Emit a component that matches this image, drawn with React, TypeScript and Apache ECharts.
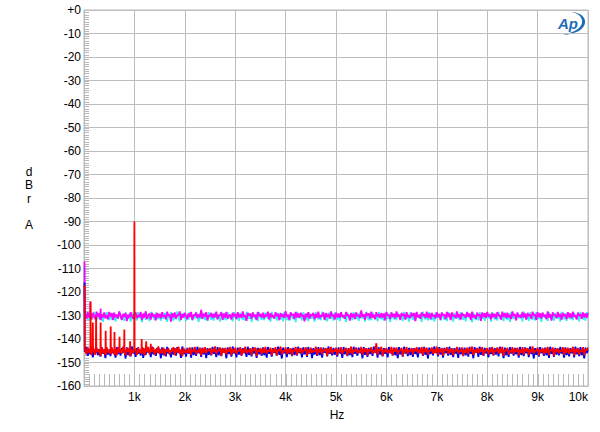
import React, { useEffect, useRef } from "react";
import * as echarts from "echarts";

// frequency grid of the noise-floor traces (Hz)
const floorStart = 25;
const floorStep = 25;

const magentaFloor = [
  -129.2,-131.4,-128.6,-130.9,-129.8,-131.7,-128.9,-130.3,-131.5,-128.4,-130.6,-129.1,-132.0,-129.5,-130.8,-128.7,-131.2,-129.9,-131.6,-128.5,
  -130.4,-129.0,-131.9,-128.8,-130.7,-129.6,-131.3,-128.3,-130.1,-131.8,-129.3,-130.5,-128.9,-132.4,-129.7,-131.0,-128.6,-130.2,-131.4,-129.4,
  -128.7,-131.1,-129.8,-130.6,-128.5,-131.9,-129.2,-130.9,-128.2,-131.5,-130.0,-129.1,-131.7,-128.8,-130.4,-129.6,-132.1,-128.9,-130.8,-129.3,
  -131.2,-128.6,-130.5,-129.9,-131.6,-128.4,-130.2,-129.5,-132.6,-129.0,-130.7,-128.7,-131.3,-129.8,-130.0,-128.3,-131.8,-129.4,-130.9,-128.9,
  -130.3,-131.5,-129.1,-130.6,-128.5,-131.9,-129.7,-130.1,-128.8,-131.2,-129.5,-130.8,-127.6,-131.4,-129.2,-130.5,-128.6,-132.0,-129.9,-130.3,
  -128.9,-131.1,-129.4,-130.7,-128.4,-131.6,-129.8,-130.0,-128.7,-131.8,-129.1,-130.9,-128.5,-131.3,-130.2,-129.6,-131.7,-128.8,-130.4,-129.3,
  -131.5,-128.6,-130.8,-129.5,-131.0,-128.3,-130.6,-129.9,-132.3,-128.9,-130.1,-129.2,-131.4,-128.7,-130.5,-129.7,-131.9,-128.5,-130.3,-129.4,
  -130.9,-128.8,-131.2,-129.6,-130.4,-128.4,-131.7,-129.0,-130.7,-129.8,-131.3,-128.6,-130.2,-129.3,-132.0,-128.9,-130.6,-129.5,-131.1,-128.2,
  -130.5,-129.7,-131.8,-128.7,-130.0,-129.4,-131.5,-128.5,-130.8,-129.1,-131.0,-128.8,-130.3,-129.9,-132.5,-129.2,-130.7,-128.6,-131.4,-129.6,
  -130.1,-128.9,-131.6,-129.3,-130.9,-128.4,-131.2,-129.8,-130.4,-128.7,-131.9,-129.0,-130.6,-129.5,-131.3,-128.3,-130.2,-129.7,-131.7,-128.8,
  -130.8,-129.2,-131.0,-128.6,-130.5,-129.9,-131.4,-128.5,-130.1,-129.6,-132.2,-128.9,-130.7,-129.3,-131.5,-128.7,-130.3,-129.8,-131.1,-127.8,
  -130.6,-129.4,-131.8,-128.8,-130.2,-129.1,-131.3,-128.4,-130.9,-129.7,-131.6,-128.6,-130.4,-129.5,-131.0,-128.9,-130.8,-129.2,-132.1,-128.5,
  -130.0,-129.8,-131.5,-128.7,-130.6,-129.3,-131.2,-128.3,-130.5,-129.6,-131.9,-128.9,-130.1,-129.4,-131.7,-128.6,-130.7,-129.9,-131.1,-128.8,
  -130.3,-129.0,-132.4,-128.5,-130.8,-129.7,-131.4,-128.7,-130.2,-129.5,-131.0,-128.4,-130.9,-129.2,-131.6,-128.9,-130.4,-129.8,-131.3,-128.6,
  -130.7,-129.3,-131.8,-128.8,-130.0,-129.6,-131.5,-128.5,-130.6,-129.1,-132.0,-128.7,-130.3,-129.9,-131.2,-128.3,-130.8,-129.4,-131.7,-128.9,
  -130.1,-129.7,-131.0,-128.6,-130.5,-129.2,-131.9,-128.4,-130.9,-129.8,-131.4,-128.8,-130.2,-129.5,-132.3,-128.7,-130.6,-129.0,-131.1,-128.5,
  -130.4,-129.6,-131.6,-128.9,-130.7,-129.3,-131.3,-128.6,-130.0,-129.9,-131.8,-128.4,-130.5,-129.1,-131.2,-128.8,-130.9,-129.7,-131.5,-128.3,
  -130.2,-129.4,-132.1,-128.7,-130.6,-129.8,-131.0,-128.5,-130.8,-129.2,-131.7,-128.9,-130.3,-129.6,-131.4,-128.4,-130.1,-129.5,-131.9,-128.6,
  -130.7,-129.0,-131.3,-128.8,-130.4,-129.7,-131.6,-128.3,-130.9,-129.4,-132.2,-128.7,-130.0,-129.8,-131.1,-128.5,-130.6,-129.3,-131.8,-128.9,
  -130.3,-129.6,-131.5,-128.6,-130.8,-129.1,-131.2,-128.4,-130.5,-129.9,-131.7,-128.8,-130.2,-129.5,-131.4,-128.7,-130.7,-129.2,-131.0,-128.9,
];

const cyanFloor = [
  -130.8,-128.7,-131.9,-129.6,-132.4,-129.0,-131.1,-128.5,-130.6,-132.2,-129.3,-131.5,-128.8,-130.9,-132.7,-129.4,-131.0,-128.6,-130.4,-132.0,
  -129.1,-131.7,-128.9,-130.5,-132.5,-129.7,-131.3,-128.4,-130.2,-131.9,-129.5,-132.3,-128.7,-130.8,-131.4,-129.2,-132.6,-128.8,-130.7,-131.6,
  -129.8,-132.1,-128.6,-131.2,-129.4,-132.8,-130.0,-128.9,-131.8,-129.6,-130.3,-132.4,-128.5,-131.0,-129.9,-132.0,-128.7,-130.6,-131.5,-129.3,
  -132.2,-129.0,-131.4,-128.8,-130.9,-132.6,-129.5,-131.2,-128.6,-130.4,-132.1,-129.7,-131.6,-128.3,-130.7,-132.5,-129.1,-131.0,-128.9,-130.5,
  -132.3,-129.4,-131.7,-128.7,-130.1,-132.0,-129.8,-131.3,-128.5,-130.8,-132.7,-129.2,-131.5,-128.9,-130.3,-131.9,-129.6,-132.4,-128.6,-130.6,
  -131.8,-129.1,-132.2,-128.8,-130.9,-131.4,-129.5,-132.6,-128.4,-130.2,-131.7,-129.3,-132.0,-128.7,-130.5,-131.2,-129.9,-132.5,-128.6,-130.7,
  -131.5,-129.0,-132.3,-128.9,-130.4,-131.9,-129.7,-132.1,-128.5,-130.8,-131.3,-129.4,-132.7,-128.8,-130.1,-131.6,-129.2,-132.4,-128.6,-130.6,
  -131.8,-129.5,-132.0,-128.7,-130.3,-131.4,-129.8,-132.6,-128.4,-130.9,-131.1,-129.3,-132.2,-128.9,-130.5,-131.7,-129.0,-132.5,-128.6,-130.2,
  -131.9,-129.6,-132.3,-128.8,-130.7,-131.5,-129.1,-132.8,-128.5,-130.4,-131.2,-129.7,-132.1,-128.7,-130.0,-131.8,-129.4,-132.4,-128.9,-130.6,
  -131.3,-129.2,-132.6,-128.6,-130.8,-131.6,-129.9,-132.0,-128.4,-130.3,-131.9,-129.5,-132.5,-128.8,-130.1,-131.4,-129.0,-132.2,-128.7,-130.9,
  -131.7,-129.3,-132.4,-128.5,-130.6,-131.1,-129.8,-132.7,-128.9,-130.2,-131.8,-129.4,-132.0,-128.6,-130.5,-131.5,-129.1,-132.3,-128.8,-130.7,
  -131.2,-129.6,-132.6,-128.4,-130.9,-131.9,-129.0,-132.1,-128.7,-130.4,-131.3,-129.7,-132.5,-128.5,-130.0,-131.6,-129.5,-132.2,-128.9,-130.8,
  -131.4,-129.2,-132.8,-128.6,-130.3,-131.7,-129.9,-132.0,-128.8,-130.6,-131.1,-129.4,-132.4,-128.5,-130.9,-131.5,-129.3,-132.6,-128.7,-130.1,
  -131.8,-129.6,-132.3,-128.9,-130.5,-131.2,-129.1,-132.7,-128.4,-130.8,-131.6,-129.8,-132.1,-128.6,-130.2,-131.9,-129.5,-132.5,-128.8,-130.4,
  -131.0,-129.3,-132.2,-128.7,-130.7,-131.8,-129.7,-132.4,-128.5,-130.1,-131.5,-129.0,-132.6,-128.9,-130.6,-131.3,-129.4,-132.0,-128.6,-130.9,
  -131.7,-129.8,-132.5,-128.4,-130.3,-131.1,-129.2,-132.8,-128.8,-130.5,-131.9,-129.6,-132.1,-128.7,-130.0,-131.4,-129.5,-132.3,-128.9,-130.8,
  -131.2,-129.1,-132.6,-128.6,-130.4,-131.7,-129.9,-132.2,-128.5,-130.7,-131.3,-129.4,-132.4,-128.8,-130.2,-131.8,-129.0,-132.7,-128.6,-130.5,
  -131.5,-129.7,-132.0,-128.9,-130.8,-131.2,-129.3,-132.5,-128.4,-130.1,-131.6,-129.8,-132.3,-128.7,-130.6,-131.9,-129.2,-132.1,-128.5,-130.9,
  -131.4,-129.5,-132.7,-128.8,-130.3,-131.0,-129.6,-132.4,-128.6,-130.5,-131.8,-129.1,-132.2,-128.9,-130.7,-131.3,-129.7,-132.6,-128.4,-130.2,
  -131.6,-129.0,-132.3,-128.7,-130.9,-131.5,-129.4,-132.0,-128.8,-130.4,-131.2,-129.9,-132.5,-128.5,-130.1,-131.7,-129.3,-132.2,-128.6,-130.6,
];

const blueFloor = [
  -145.4,-143.6,-147.2,-144.1,-146.5,-143.3,-147.8,-144.6,-145.9,-143.8,-146.9,-144.3,-147.5,-143.5,-146.2,-144.8,-148.1,-143.9,-146.6,-144.4,
  -147.3,-143.7,-146.0,-144.9,-147.9,-143.4,-146.4,-144.2,-147.1,-143.8,-145.7,-144.5,-148.3,-143.6,-146.8,-144.0,-147.4,-143.2,-146.1,-144.7,
  -147.6,-143.9,-146.3,-144.4,-147.0,-143.5,-148.0,-144.1,-146.7,-143.7,-145.8,-144.6,-147.7,-143.3,-146.5,-144.9,-147.2,-143.8,-146.0,-144.2,
  -148.2,-143.6,-146.9,-144.3,-147.4,-143.4,-146.1,-144.8,-147.8,-143.9,-146.6,-144.0,-147.1,-143.5,-145.9,-144.7,-148.0,-143.2,-146.4,-144.5,
  -147.5,-143.8,-146.2,-144.1,-147.9,-143.6,-146.8,-144.4,-147.2,-143.3,-146.0,-144.9,-147.6,-143.7,-146.5,-144.2,-148.1,-143.9,-146.7,-144.6,
  -147.0,-143.4,-146.3,-144.8,-147.7,-143.5,-146.9,-144.0,-147.3,-143.8,-145.8,-144.5,-148.2,-143.6,-146.4,-144.3,-147.5,-143.2,-146.1,-144.7,
  -147.8,-143.7,-146.6,-144.2,-147.1,-143.9,-146.0,-144.9,-147.6,-143.3,-146.8,-144.4,-147.4,-143.5,-146.2,-144.1,-148.0,-143.8,-146.5,-144.6,
  -147.2,-143.6,-146.9,-144.0,-147.9,-143.4,-146.3,-144.7,-147.5,-143.9,-145.9,-144.3,-147.0,-143.2,-146.7,-144.8,-148.3,-143.7,-146.1,-144.5,
  -147.7,-143.5,-146.4,-144.2,-147.3,-143.8,-146.8,-144.6,-147.1,-143.3,-146.0,-144.9,-147.8,-143.6,-146.5,-144.1,-147.6,-143.4,-146.2,-144.4,
  -148.1,-143.9,-146.6,-144.3,-147.2,-143.5,-146.9,-144.0,-147.9,-143.7,-145.8,-144.8,-147.4,-143.2,-146.3,-144.5,-147.0,-143.8,-146.7,-144.2,
  -147.5,-143.6,-146.1,-144.7,-148.0,-143.4,-146.5,-144.1,-147.3,-143.9,-146.8,-144.4,-147.7,-143.3,-146.2,-144.9,-147.1,-143.7,-146.0,-144.6,
  -148.2,-143.5,-146.7,-144.0,-147.6,-143.8,-146.4,-144.5,-147.2,-143.2,-145.9,-144.3,-147.9,-143.6,-146.6,-144.8,-147.4,-143.9,-146.3,-144.2,
  -147.8,-143.4,-146.0,-144.6,-147.0,-143.7,-146.9,-144.1,-148.1,-143.5,-146.5,-144.7,-147.5,-143.3,-146.2,-144.4,-147.3,-143.8,-146.8,-144.0,
  -147.6,-143.9,-146.3,-144.9,-147.8,-143.6,-146.1,-144.2,-147.2,-143.4,-146.7,-144.5,-148.3,-143.7,-146.4,-144.0,-147.0,-143.2,-145.9,-144.8,
  -147.4,-143.5,-146.6,-144.3,-147.9,-143.8,-146.0,-144.6,-147.1,-143.3,-146.8,-144.1,-147.7,-143.9,-146.2,-144.7,-148.0,-143.6,-146.5,-144.4,
  -147.3,-143.7,-146.9,-144.0,-147.5,-143.4,-146.3,-144.8,-148.2,-143.5,-145.8,-144.2,-147.6,-143.2,-146.7,-144.5,-147.2,-143.8,-146.1,-144.9,
  -147.8,-143.6,-146.4,-144.3,-147.0,-143.9,-146.6,-144.1,-147.4,-143.3,-146.0,-144.7,-148.1,-143.7,-146.9,-144.4,-147.6,-143.5,-146.2,-144.6,
  -147.1,-143.8,-146.5,-144.2,-147.9,-143.4,-146.8,-144.9,-147.3,-143.6,-146.1,-144.0,-147.7,-143.2,-146.4,-144.5,-148.3,-143.9,-146.7,-144.3,
  -147.5,-143.5,-146.0,-144.8,-147.2,-143.7,-146.9,-144.1,-148.0,-143.3,-146.3,-144.6,-147.6,-143.8,-146.6,-144.2,-147.0,-143.4,-146.2,-144.7,
  -147.9,-143.6,-146.8,-144.4,-147.4,-143.9,-146.1,-144.0,-147.8,-143.2,-146.5,-144.8,-147.3,-143.5,-146.9,-144.3,-148.2,-143.7,-146.0,-144.5,
];

const redFloor = [
  -144.2,-146.5,-143.6,-145.9,-144.8,-146.9,-143.4,-145.3,-146.7,-143.9,-145.6,-144.5,-147.2,-143.7,-146.1,-144.3,-146.8,-143.5,-145.7,-144.9,
  -146.4,-143.8,-145.2,-146.6,-144.1,-147.0,-143.6,-145.8,-144.4,-146.3,-143.3,-145.5,-146.9,-144.0,-145.4,-143.7,-147.3,-144.6,-146.0,-143.9,
  -145.1,-146.8,-143.5,-145.9,-144.7,-146.2,-143.8,-147.1,-144.2,-145.6,-143.4,-146.5,-144.9,-145.3,-143.6,-146.7,-144.3,-145.8,-143.2,-146.4,
  -144.6,-146.0,-143.7,-147.0,-144.4,-145.5,-143.9,-146.6,-144.8,-145.2,-143.5,-146.9,-144.0,-145.7,-143.3,-146.3,-144.5,-147.4,-143.8,-145.4,
  -146.1,-144.2,-145.9,-143.6,-146.8,-144.7,-145.3,-143.4,-146.5,-144.9,-145.6,-143.7,-147.1,-144.1,-145.8,-143.5,-146.2,-144.6,-145.0,-143.9,
  -146.7,-144.3,-145.5,-143.2,-146.4,-144.8,-145.1,-143.6,-147.2,-144.0,-145.9,-143.8,-146.6,-144.5,-145.4,-143.4,-146.9,-144.2,-145.7,-143.7,
  -146.3,-144.9,-145.2,-143.5,-147.0,-144.4,-145.8,-143.3,-146.1,-144.7,-145.6,-143.9,-146.8,-144.1,-145.0,-143.6,-147.3,-144.6,-145.4,-143.8,
  -146.5,-144.0,-145.9,-143.4,-146.2,-144.8,-145.3,-143.7,-146.9,-144.3,-145.7,-143.5,-147.1,-144.5,-145.1,-143.2,-146.6,-144.9,-145.5,-143.6,
  -146.4,-144.2,-145.8,-143.9,-147.0,-144.6,-145.2,-143.4,-146.7,-144.1,-145.6,-143.8,-146.3,-144.7,-145.0,-143.5,-147.2,-144.4,-145.9,-143.7,
  -146.0,-144.9,-145.4,-143.3,-146.8,-144.2,-145.7,-143.6,-146.5,-144.5,-145.1,-143.9,-147.3,-144.0,-145.8,-143.4,-146.2,-144.8,-145.3,-143.7,
  -146.9,-144.3,-145.6,-143.5,-146.4,-144.7,-145.0,-143.8,-147.1,-144.1,-145.9,-143.2,-146.6,-144.6,-145.3,-143.6,-146.1,-144.9,-145.7,-143.4,
  -146.7,-144.0,-145.5,-143.9,-147.0,-144.4,-145.2,-143.5,-146.3,-144.8,-145.8,-141.8,-146.8,-144.2,-145.1,-143.3,-147.2,-144.5,-145.6,-143.8,
  -146.2,-144.6,-145.9,-143.4,-146.9,-144.1,-145.4,-143.6,-146.5,-144.9,-145.0,-143.8,-147.3,-144.3,-145.7,-143.5,-146.4,-144.7,-145.2,-143.9,
  -146.6,-144.2,-145.3,-143.5,-146.1,-144.5,-145.8,-143.4,-147.0,-144.0,-145.5,-143.7,-146.7,-144.8,-145.1,-143.6,-146.3,-144.4,-145.9,-143.3,
  -146.8,-144.1,-145.6,-143.8,-147.1,-144.6,-145.0,-143.5,-146.4,-144.3,-145.7,-143.9,-146.9,-144.7,-145.2,-143.4,-146.2,-144.9,-145.4,-143.6,
  -147.2,-144.4,-145.8,-143.7,-146.5,-144.0,-145.3,-143.2,-146.8,-144.6,-145.9,-143.8,-146.1,-144.2,-145.5,-143.5,-147.0,-144.8,-145.1,-143.9,
  -146.6,-144.3,-145.7,-143.4,-146.9,-144.7,-145.2,-143.6,-146.3,-144.1,-145.8,-143.3,-147.2,-144.5,-145.0,-143.8,-146.7,-144.9,-145.6,-143.5,
  -146.4,-144.2,-145.4,-143.7,-147.1,-144.6,-145.9,-143.5,-146.6,-144.0,-145.3,-143.9,-146.8,-144.4,-145.7,-143.2,-146.2,-144.8,-145.1,-143.6,
  -147.0,-144.5,-145.5,-143.8,-146.5,-144.1,-145.8,-143.4,-146.9,-144.7,-145.0,-143.6,-147.3,-144.3,-145.6,-143.9,-146.1,-144.9,-145.2,-143.5,
  -146.7,-144.0,-145.9,-143.7,-146.4,-144.6,-145.3,-143.3,-147.1,-144.2,-145.7,-143.8,-146.6,-144.8,-145.4,-143.5,-146.9,-144.4,-145.0,-143.6,
];

// discrete spikes [Hz, dB]
const redSpikes = [
  [10, -117], [130, -124], [175, -133], [240, -130.5], [330, -133], [430, -136.5],
  [530, -134.7], [605, -137], [705, -139], [800, -136], [915, -141], [1000, -90],
  [1145, -140], [1235, -141], [1325, -142],
];
const magentaSpikes = [[10, -107], [125, -124], [330, -127]];
const cyanSpikes = [[10, -109]];
const blueSpikes = [[10, -116]];

const xTicks = [0, 1000, 2000, 3000, 4000, 5000, 6000, 7000, 8000, 9000, 10000];
const yRange = [-160, 0];
const xMinorStep = 100;
const yMinorStep = 1;

function buildTrace(floor: number[], spikes: number[][]) {
  const pts: number[][] = floor.map((v, i) => [floorStart + i * floorStep, v]);
  const kept = pts.filter((p) => !spikes.some((s) => Math.abs(s[0] - p[0]) < 10));
  const nearest = (f: number) => {
    let best = pts[0];
    for (const p of pts) if (Math.abs(p[0] - f) < Math.abs(best[0] - f)) best = p;
    return best[1];
  };
  const extra: number[][] = [];
  for (const s of spikes) {
    const base = nearest(s[0]);
    if (s[0] > 10) extra.push([s[0] - 4, base]);
    extra.push([s[0], s[1]]);
    extra.push([s[0] + 4, base]);
  }
  return kept.concat(extra).sort((a, b) => a[0] - b[0]);
}

echarts.graphic.registerShape(
  "apSwoosh",
  echarts.graphic.extendPath(
    "M571 12 C580 12 586 17 585 23 C584 29 577 34 563 35 C575 32 581 28 582 23 C583 17 578 13 571 12 Z",
    {}
  )
);

const FONT = "Liberation Sans, Arial, sans-serif";

export default function App() {
  const ref = useRef<HTMLDivElement>(null);
  useEffect(() => {
    if (!ref.current) return;
    const chart = echarts.init(ref.current, undefined, { renderer: "svg" });
    const gridColor = "#bdbdbd";
    const minorColor = "#b8b8b8";
    const mk = (name: string, data: number[][], color: string) => ({
      name,
      type: "line",
      data,
      symbol: "none",
      silent: true,
      lineStyle: { color, width: 1.8 },
      z: 3,
    });
    const xMin = xTicks[0];
    const xMax = xTicks[xTicks.length - 1];

    // minor tick positions (axis decoration)
    const xMinor: number[][] = [];
    for (let v = xMin + xMinorStep; v < xMax; v += xMinorStep) xMinor.push([v, yRange[0]]);
    const yMinor: number[][] = [];
    for (let v = yRange[0] + yMinorStep; v < yRange[1]; v += yMinorStep) yMinor.push([xMin, v]);

    chart.setOption({
      animation: false,
      backgroundColor: "#ffffff",
      textStyle: { fontFamily: FONT },
      grid: {
        left: 84,
        right: 12,
        top: 10,
        bottom: 46,
        show: true,
        borderColor: gridColor,
        borderWidth: 1,
        outerBoundsMode: "none",
      },
      xAxis: {
        type: "value",
        min: xMin,
        max: xMax,
        interval: 1000,
        axisLine: { show: true, onZero: false, lineStyle: { color: gridColor } },
        axisTick: { show: false },
        splitLine: { show: true, lineStyle: { color: gridColor, width: 1 } },
        axisLabel: {
          color: "#000",
          fontSize: 12,
          fontFamily: FONT,
          margin: 5,
          alignMaxLabel: "right",
          formatter: (v: number) => (v === 0 ? "" : v / 1000 + "k"),
        },
      },
      yAxis: {
        type: "value",
        min: yRange[0],
        max: yRange[1],
        interval: 10,
        axisLine: { show: true, onZero: false, lineStyle: { color: gridColor } },
        axisTick: { show: false },
        splitLine: { show: true, lineStyle: { color: gridColor, width: 1 } },
        axisLabel: {
          color: "#000",
          fontSize: 12,
          fontFamily: FONT,
          margin: 3,
          formatter: (v: number) => (v === 0 ? "+0" : String(v)),
        },
      },
      series: [
        {
          type: "custom",
          silent: true,
          clip: false,
          z: 1,
          data: xMinor,
          renderItem: (_p: any, api: any) => {
            const c = api.coord([api.value(0), api.value(1)]);
            const x = Math.round(c[0]) + 0.5;
            return {
              type: "line",
              shape: { x1: x, y1: c[1], x2: x, y2: c[1] - 12 },
              style: { stroke: minorColor, lineWidth: 1 },
            };
          },
        },
        {
          type: "custom",
          silent: true,
          clip: false,
          z: 1,
          data: yMinor,
          renderItem: (_p: any, api: any) => {
            const c = api.coord([api.value(0), api.value(1)]);
            const y = Math.round(c[1]) + 0.5;
            return {
              type: "line",
              shape: { x1: c[0], y1: y, x2: c[0] + 5, y2: y },
              style: { stroke: minorColor, lineWidth: 1 },
            };
          },
        },
        mk("cyan", buildTrace(cyanFloor, cyanSpikes), "#33eeee"),
        mk("magenta", buildTrace(magentaFloor, magentaSpikes), "#ff00ff"),
        mk("blue", buildTrace(blueFloor, blueSpikes), "#0000ee"),
        mk("red", buildTrace(redFloor, redSpikes), "#ff0000"),
      ],
      graphic: [
        {
          type: "text",
          x: 29,
          y: 165.5,
          style: {
            text: "d\nB\nr\n\nA",
            fontSize: 12,
            lineHeight: 13.3,
            fontFamily: FONT,
            fill: "#000",
            align: "center",
            verticalAlign: "top",
          },
        },
        {
          type: "text",
          x: 337,
          y: 415,
          style: {
            text: "Hz",
            fontSize: 12,
            fontFamily: FONT,
            fill: "#000",
            align: "center",
            verticalAlign: "middle",
          },
        },
        {
          type: "text",
          x: 568,
          y: 23,
          style: {
            text: "Ap",
            fontSize: 15,
            fontStyle: "italic",
            fontWeight: "bold",
            fontFamily: FONT,
            fill: "#1f6db4",
            align: "center",
            verticalAlign: "middle",
          },
        },
        {
          type: "apSwoosh",
          x: 0,
          y: 0,
          style: { fill: "#1f6db4" },
        },
      ],
    });
    return () => chart.dispose();
  }, []);
  return (
    <div
      ref={ref}
      style={{ position: "fixed", left: 0, top: 0, width: 600, height: 432, background: "#fff" }}
    />
  );
}
